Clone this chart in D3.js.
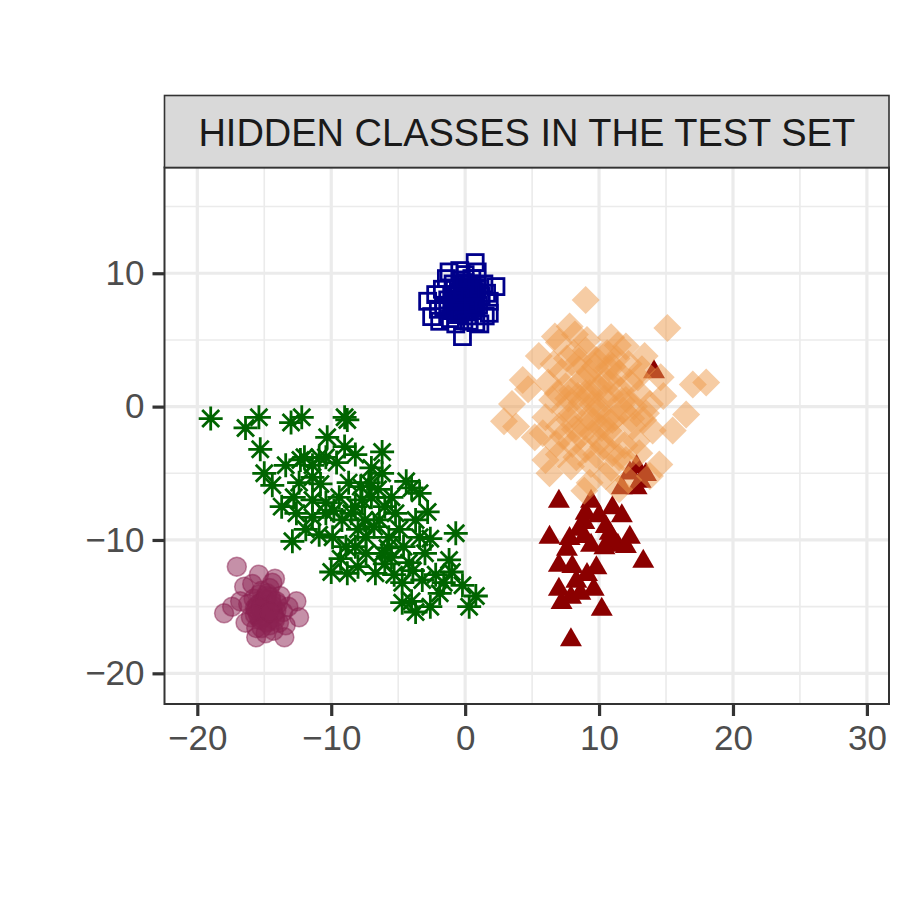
<!DOCTYPE html>
<html><head><meta charset="utf-8">
<script src="https://cdn.jsdelivr.net/npm/d3@7"></script>
<style>body{margin:0;background:#fff}svg{display:block}</style>
</head><body>
<script>
const stripTitle = "HIDDEN CLASSES IN THE TEST SET";
const xTicks = [-20, -10, 0, 10, 20, 30];
const yTicks = [-20, -10, 0, 10];
const xMinor = [-15, -5, 5, 15, 25];
const yMinor = [-15, -5, 5, 15];

// class A: open squares (dark blue)
const squaresX = [0.75,-1.2,2.3,-2.8,-2.2,-0.2,-1.9,1.8,1.8,0.8,-2.5,0,0.3,-0.4,0.6,-0.8,0.9,-0.3,0.2,-1,1.2,-0.6,0.4,-0.1,0.7,-1.3,1,-0.5,0.1,-0.2,0.5,-0.9,1.4,-1.6,0.3,-0.7,1.5,-1.4,0,0.9,-0.4,1.1,-1.1,-1.7,0.2,-0.3,0.6,-0.8,0.4,1.6,-2.0,
  0.1,-0.2,0.3,-0.4,0.5,-0.1,0.2,-0.6,0.7,0.0,-0.3,0.4,-0.5,0.6,-0.2,0.1,0.8,-0.7,0.3,-0.1,0.5,-0.4,0.2,-0.8,0.9,0.0,-0.5,0.4,-0.2,0.6];
const squaresY = [10.8,10.1,9.0,7.9,8.4,5.25,6.4,7.9,7.0,6.3,6.75,8,8.5,7.6,7.2,8.8,9.1,9.5,6.8,7.2,8.3,8.1,7.9,8.9,8.6,8,7.6,6.9,7.4,8.3,9.6,9.2,9.2,7.5,6.4,6.2,6.8,9.6,9.9,10.1,10.2,6.2,6.6,8.8,8.1,7.2,8.0,7.8,8.8,8.5,7.3,
  7.8,8.2,8.4,7.9,7.7,7.5,8.7,8.4,8.2,8.5,7.3,7.4,8.6,8.9,9.0,7.1,7.8,7.6,9.2,8.0,8.1,7.0,7.7,8.3,8.8,9.3,7.9,8.6,8.4,7.5];

// class B: diamonds (orange, semi-transparent)
const diamondsX = [9.0,15.1,18.0,17.0,16.5,2.9,4.3,7.8,6.7,14.5,9.3,8.9,3.8,5.2,4.7,13.8,12.2,6.0,5.5,12.0,13.4,14.8,15.5,3.5,6.3,11.5,7.0,10.9,8.2,14.6,
  10,9,11,8,12,10.5,9.5,7.5,12.5,8.5,11.5,9.8,10.3,7,13,8,11,6.5,13.5,9.2,10.8,8.7,11.8,9.6,10.2,7.8,12.3,8.3,11.3,9.0,10.6,12.8,7.2,6.8,13.2,9.4,10.9,7.6,12.0,6.2,13.8,8.1,11.6,9.9,10.4,8.9,11.1,7.4,12.6,9.3,10.7,8.6,11.9,10.1,9.7,6.0,14.0,8.0,12.2,7.9,10.5,11.4,9.1,13.0,6.6,5.8,7.0,12.9,9.5,10.0,11.2,8.4,10.6,9.0,11.7,8.8,10.9,7.7,12.4,9.6,10.2,8.2,11.0,9.3,10.7,13.3,6.9,8.5,11.5,9.8,7.3];
const diamondsY = [8.0,5.9,1.8,1.65,-0.6,-1.1,2.0,6.0,5.25,-4.35,-5.7,-6.3,-1.5,-2.3,1.3,-5.2,-5.5,-4.0,3.8,4.5,3.8,0.8,-1.8,0.2,-5.0,-6.2,4.8,5.2,5.4,2.2,
  0,1,-1,-0.5,0.5,2,-2,1.5,-1.5,2.8,2.5,3.5,-3,-1.5,1,-2.8,-3.5,0.5,-0.5,-0.8,0.9,0.3,-0.3,1.8,-1.6,-1.0,1.8,-3.8,3.6,4.2,4.0,-2.6,2.6,-2.8,2.8,-4.3,-4.6,3.6,-4.0,1.8,0.2,4.0,1.2,-0.4,0.6,-1.5,-2.2,-0.2,0.0,2.6,2.9,-2.2,-2.9,-2.6,3.0,-0.8,-1.8,1.2,3.2,-4.5,-5.2,4.6,5.0,-3.5,3.2,-2.0,-3.6,2.2,0.2,1.4,-0.8,0.8,-0.9,-3.2,0.4,2.0,1.9,0.6,-0.9,-1.1,3.8,-1.7,3.0,1.0,-1.8,-1.0,1.0,3.4,-3.8,-3.6,-2.2];

// class C: filled triangles (dark red)
const trianglesX = [7.0,9.4,12.8,13.5,12.8,11.7,11.0,11.7,10.0,8.9,8.5,6.3,10.8,12.3,11.4,10.4,7.6,7.0,9.8,13.3,9.1,8.3,7.0,9.6,7.9,7.2,10.2,7.9,8.9,14.1,12.3,10.5,9.4,8.0,8.6,12.0,10.9,9.0,13.1,7.8];
const trianglesY = [-7.1,-7.1,-4.5,-5.1,-6.1,-6.1,-7.6,-8.2,-8.2,-8.7,-9.2,-9.8,-9.5,-9.8,-10.4,-10.6,-10.7,-11.9,-12.1,-11.6,-12.6,-13.1,-13.7,-13.7,-14.3,-14.7,-15.2,-17.5,-9.75,2.6,-5.0,-9.0,-10.4,-12.0,-14.0,-10.5,-10.0,-8.0,-5.6,-9.9];

// class D: asterisks (dark green)
const starsX = [-19.0,-16.4,-15.4,-15.3,-15.0,-14.4,-13.0,-12.2,-10.3,-12.3,-11.4,-10.4,-13.7,-12.8,-12.6,-12.9,-11.4,-10.4,-9.0,-8.8,
  -6.2,-12.0,-10.9,-9.6,-8.2,-7.2,-6.2,-4.4,-3.4,-2.8,-0.7,-3.7,-3.4,-4.9,-6.4,-8.2,-9.2,-9.9,-10.9,-11.9,-10.0,-8.8,-6.7,-5.5,-4.2,-1.2,-1.0,-0.2,0.3,-1.9,-4.0,-4.7,-3.7,-4.7,-6.2,-7.4,-8.2,-8.9,-7.4,-5.7,-7.0,-7.7,-8.7,-11.4,-12.4,-11.4,-10.4,-9.4,
  -4.0,-7.5,-6.8,-8.0,-6.0,-5.2,-7.8,-6.5,-5.5,-8.5,-9.8,-4.6,-5.8,-3.0,-2.2,-3.2,-1.6,-13.4,-10.8,-9.0,-7.0,-6.0,-3.9,-2.6,-9.3,-8.0,0.8,-2.6,-5.3];
const starsY = [-0.9,-1.6,-0.8,-3.2,-5.0,-5.9,-1.2,-0.8,-2.3,-4.0,-4.4,-3.8,-7.5,-6.8,-8.0,-10.1,-8.3,-8.0,-0.8,-1.0,
  -3.4,-3.8,-3.8,-4.2,-3.6,-5.7,-5.0,-5.6,-6.5,-7.9,-9.5,-8.5,-9.8,-9.2,-8.5,-7.5,-8.5,-9.8,-9.6,-9.2,-12.4,-12.5,-12.5,-11.3,-11.7,-11.5,-12.4,-13.4,-15.0,-14.0,-14.6,-14.7,-15.4,-13.2,-11.0,-11.0,-10.5,-10.5,-9.8,-9.8,-6.8,-7.0,-5.7,-5.3,-5.7,-7.0,-7.2,-6.8,
  -6.1,-8.5,-9.0,-9.2,-7.5,-8.0,-6.0,-6.2,-6.8,-8.0,-7.8,-10.5,-10.6,-11.0,-12.6,-13.0,-13.2,-4.4,-5.8,-3.0,-4.6,-11.8,-12.3,-9.9,-11.4,-12.0,-14.2,-15.0,-12.6];

// class E: circles (maroon, semi-transparent)
const circlesX = [-17.05,-18.0,-12.4,-12.6,-15.6,-13.5,-17.4,-15.4,-14.2,-16.5,-15,-14.5,-15.5,-14.2,-15.8,-14.8,-15.2,-14,-16,-13.6,-14.6,-15.6,-14.3,-16.2,-13.8,-15.1,-14.7,-15.4,-13.9,-16.4,-14.9,-13.4,-15.9,-13.2,-16.8,-14.4,-15.3,-14.1,-15.7,-14.8,
  -15.0,-14.6,-15.3,-14.9,-15.2,-14.5,-15.6,-14.3,-15.0,-14.7,-15.4,-14.4,-14.9,-15.1,-14.6,-15.5,-14.2,-15.0,-14.8,-15.3,-15.7,-14.1,-15.2,-14.6];
const circlesY = [-12.0,-15.5,-15.8,-14.6,-17.3,-17.3,-15.0,-12.6,-12.9,-13.5,-15,-14.5,-15.5,-15.8,-14.4,-16.2,-13.8,-14.8,-15.8,-15.4,-13.6,-16.6,-16.8,-14.8,-14.2,-14.6,-15.4,-14.1,-16.2,-16.2,-17.0,-16.4,-13.3,-15.0,-14.6,-13.2,-16.0,-15.3,-15.1,-14.0,
  -15.2,-15.0,-14.7,-15.6,-15.9,-14.3,-15.2,-15.5,-14.4,-16.1,-15.8,-14.9,-14.5,-15.3,-16.4,-14.9,-16.0,-15.7,-14.2,-15.1,-15.6,-14.6,-16.6,-15.4];

const W = 913, H = 913;
const panel = {left: 164.5, right: 889, top: 167.5, bottom: 704};
const svg = d3.select("body").append("svg").attr("width", W).attr("height", H)
  .style("font-family", "'Liberation Sans', Arial, Helvetica, sans-serif");

const x = d3.scaleLinear().domain([-22.45, 31.65]).range([panel.left, panel.right]);
const y = d3.scaleLinear().domain([-22.3, 17.93]).range([panel.bottom, panel.top]);

// panel background + grid
const g = svg.append("g");
g.append("rect").attr("x", panel.left).attr("y", panel.top)
  .attr("width", panel.right - panel.left).attr("height", panel.bottom - panel.top).attr("fill", "#fff");
g.selectAll(".xminor").data(xMinor).join("line")
  .attr("x1", d => x(d)).attr("x2", d => x(d)).attr("y1", panel.top).attr("y2", panel.bottom)
  .attr("stroke", "#EBEBEB").attr("stroke-width", 1.6);
g.selectAll(".yminor").data(yMinor).join("line")
  .attr("y1", d => y(d)).attr("y2", d => y(d)).attr("x1", panel.left).attr("x2", panel.right)
  .attr("stroke", "#EBEBEB").attr("stroke-width", 1.6);
g.selectAll(".xmajor").data(xTicks).join("line")
  .attr("x1", d => x(d)).attr("x2", d => x(d)).attr("y1", panel.top).attr("y2", panel.bottom)
  .attr("stroke", "#EBEBEB").attr("stroke-width", 3.2);
g.selectAll(".ymajor").data(yTicks).join("line")
  .attr("y1", d => y(d)).attr("y2", d => y(d)).attr("x1", panel.left).attr("x2", panel.right)
  .attr("stroke", "#EBEBEB").attr("stroke-width", 3.2);

const zip = (xs, ys) => xs.map((v, i) => [v, ys[i]]);
const pts = svg.append("g");

// circles
pts.selectAll(".c").data(zip(circlesX, circlesY)).join("circle")
  .attr("cx", d => x(d[0])).attr("cy", d => y(d[1])).attr("r", 9.5)
  .attr("fill", "#8B2252").attr("fill-opacity", 0.5)
  .attr("stroke", "#8B2252").attr("stroke-opacity", 0.5).attr("stroke-width", 1.5);

// asterisks
const a = 12, b = 8.5;
const starPath = `M${-a},0L${a},0M0,${-a}L0,${a}M${-b},${-b}L${b},${b}M${-b},${b}L${b},${-b}`;
pts.selectAll(".s").data(zip(starsX, starsY)).join("path")
  .attr("transform", d => `translate(${x(d[0])},${y(d[1])})`)
  .attr("d", starPath).attr("fill", "none").attr("stroke", "#006400").attr("stroke-width", 2.8);

// squares
const sq = 16;
pts.selectAll(".q").data(zip(squaresX, squaresY)).join("rect")
  .attr("x", d => x(d[0]) - sq / 2).attr("y", d => y(d[1]) - sq / 2)
  .attr("width", sq).attr("height", sq)
  .attr("fill", "none").attr("stroke", "#00008B").attr("stroke-width", 2.8);

// triangles
const tw = 11, th = 19;
const triPath = `M0,${-th * 2 / 3}L${tw},${th / 3}L${-tw},${th / 3}Z`;
pts.selectAll(".t").data(zip(trianglesX, trianglesY)).join("path")
  .attr("transform", d => `translate(${x(d[0])},${y(d[1])})`)
  .attr("d", triPath).attr("fill", "#8B0000");

// diamonds
const dd = 14;
const diaPath = `M0,${-dd}L${dd},0L0,${dd}L${-dd},0Z`;
pts.selectAll(".d").data(zip(diamondsX, diamondsY)).join("path")
  .attr("transform", d => `translate(${x(d[0])},${y(d[1])})`)
  .attr("d", diaPath).attr("fill", "#EE9A49").attr("fill-opacity", 0.5);

// panel border
svg.append("rect").attr("x", panel.left).attr("y", panel.top)
  .attr("width", panel.right - panel.left).attr("height", panel.bottom - panel.top)
  .attr("fill", "none").attr("stroke", "#333333").attr("stroke-width", 2);

// strip
const stripTop = 95.5;
svg.append("rect").attr("x", panel.left).attr("y", stripTop)
  .attr("width", panel.right - panel.left).attr("height", panel.top - stripTop)
  .attr("fill", "#D9D9D9").attr("stroke", "#333333").attr("stroke-width", 1.6);
svg.append("text").attr("x", (panel.left + panel.right) / 2).attr("y", (stripTop + panel.top) / 2 + 1)
  .attr("text-anchor", "middle").attr("dominant-baseline", "central")
  .attr("fill", "#1A1A1A").style("font-size", "38px").text(stripTitle);

// axes
const fmt = d => (d < 0 ? "\u2212" + Math.abs(d) : String(d));
const xAxis = svg.append("g").attr("transform", `translate(0,${panel.bottom})`)
  .call(d3.axisBottom(x).tickValues(xTicks).tickSize(12).tickPadding(9).tickFormat(fmt));
const yAxis = svg.append("g").attr("transform", `translate(${panel.left},0)`)
  .call(d3.axisLeft(y).tickValues(yTicks).tickSize(12).tickPadding(8).tickFormat(fmt));
[xAxis, yAxis].forEach(ax => {
  ax.select(".domain").remove();
  ax.selectAll(".tick line").attr("stroke", "#333333").attr("stroke-width", 3.2);
  ax.selectAll(".tick text").attr("fill", "#4D4D4D").style("font-size", "35px")
    .style("font-family", "'Liberation Sans', Arial, Helvetica, sans-serif");
});
</script>
</body></html>
